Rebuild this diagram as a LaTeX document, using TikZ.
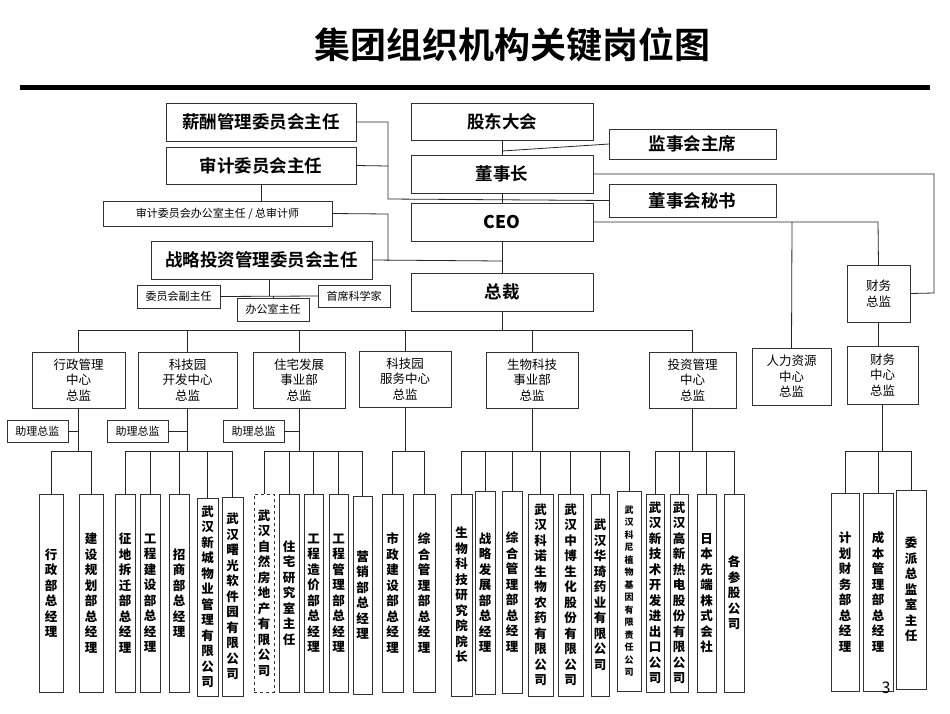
\documentclass[tikz,border=0pt]{standalone}
\usepackage{fontspec}
\setmainfont{Noto Sans CJK SC}
\newfontfamily\cjkb{Noto Sans CJK SC Bold}
\begin{document}
\begin{tikzpicture}[x=1pt,y=-1pt,
  box/.style={draw=black!80,line width=0.9pt,inner sep=0pt,outer sep=0pt,align=center},
  big/.style={font=\fontsize{17.5}{20}\selectfont\cjkb},
  mid/.style={font=\fontsize{12.5}{15.5}\selectfont},
  sm/.style={font=\fontsize{11}{13}\selectfont},
  lf/.style={font=\fontsize{12.5}{15.5}\selectfont\bfseries},
  ln/.style={draw=black!85,line width=0.8pt}]
\newcommand\bx[7][]{\node[box,#1,minimum width={#4-#2},minimum height={#5-#3}] (#6) at ({(#2+#4)/2},{(#3+#5)/2}) {#7};}
\useasboundingbox (0,0) rectangle (950,713);
\fill[white] (0,0) rectangle (950,713);
% title
\node[font=\fontsize{36}{40}\selectfont\cjkb] (title) at (512,45) {集团组织机构关键岗位图};
\fill (20,85) rectangle (930,90);
% top boxes
\bx[big]{166}{103}{356}{141}{xc}{薪酬管理委员会主任}
\bx[big]{166}{147}{356}{184}{sj}{审计委员会主任}
\bx[sm]{103}{201}{332}{226}{sjb}{审计委员会办公室主任 / 总审计师}
\bx[big]{151}{241}{372}{279}{zl}{战略投资管理委员会主任}
\bx[sm]{137}{285}{220}{308}{fzr}{委员会副主任}
\bx[sm]{318}{285}{390}{307}{sx}{首席科学家}
\bx[sm]{237}{298}{309}{321}{bgs}{办公室主任}
\bx[big]{411}{103}{593}{140}{gd}{股东大会}
\bx[big]{411}{155}{593}{193}{dsz}{董事长}
\bx[big]{411}{203}{593}{241}{ceo}{\bfseries CEO}
\bx[big]{411}{273}{593}{311}{zc}{总裁}
\bx[big]{609}{129}{776}{159}{jsh}{监事会主席}
\bx[big]{609}{184}{776}{217}{ms}{董事会秘书}
\bx[mid]{847}{265}{910}{322}{cwz}{财务\\总监}
% divisions
\bx[mid]{32}{352}{125}{408}{d1}{行政管理\\中心\\总监}
\bx[mid]{138}{352}{237}{408}{d2}{科技园\\开发中心\\总监}
\bx[mid]{253}{352}{345}{408}{d3}{住宅发展\\事业部\\总监}
\bx[mid]{359}{351}{451}{407}{d4}{科技园\\服务中心\\总监}
\bx[mid]{486}{352}{578}{408}{d5}{生物科技\\事业部\\总监}
\bx[mid]{649}{352}{736}{408}{d6}{投资管理\\中心\\总监}
\bx[mid]{752}{348}{831}{405}{d7}{人力资源\\中心\\总监}
\bx[mid]{847}{346}{918}{404}{d8}{财务\\中心\\总监}
\bx[sm]{7}{420}{68}{442}{a1}{助理总监}
\bx[sm]{107}{420}{168}{442}{a2}{助理总监}
\bx[sm]{223}{420}{284}{442}{a3}{助理总监}
% leaves
\bx[lf]{39}{494}{63}{692}{l1}{行\\政\\部\\总\\经\\理}
\bx[lf]{79}{494}{103}{692}{l2}{建\\设\\规\\划\\部\\总\\经\\理}
\bx[lf]{115}{494}{135}{692}{l3}{征\\地\\拆\\迁\\部\\总\\经\\理}
\bx[lf]{140}{494}{160}{692}{l4}{工\\程\\建\\设\\部\\总\\经\\理}
\bx[lf]{169}{494}{189}{692}{l5}{招\\商\\部\\总\\经\\理}
\bx[lf]{197}{498}{218}{696}{l6}{武\\汉\\新\\城\\物\\业\\管\\理\\有\\限\\公\\司}
\bx[lf]{222}{497}{243}{696}{l7}{武\\汉\\曙\\光\\软\\件\\园\\有\\限\\公\\司}
\bx[lf,dashed]{254}{494}{274}{692}{l8}{武\\汉\\自\\然\\房\\地\\产\\有\\限\\公\\司}
\bx[lf]{279}{494}{299}{692}{l9}{住\\宅\\研\\究\\室\\主\\任}
\bx[lf]{304}{494}{323}{692}{l10}{工\\程\\造\\价\\部\\总\\经\\理}
\bx[lf]{329}{494}{348}{692}{l11}{工\\程\\管\\理\\部\\总\\经\\理}
\bx[lf]{353}{496}{372}{694}{l12}{营\\销\\部\\总\\经\\理}
\bx[lf]{382}{494}{403}{692}{l13}{市\\政\\建\\设\\部\\总\\经\\理}
\bx[lf]{413}{494}{435}{692}{l14}{综\\合\\管\\理\\部\\总\\经\\理}
\bx[lf]{451}{494}{472}{696}{l15}{生\\物\\科\\技\\研\\究\\院\\院\\长}
\bx[lf]{475}{491}{495}{694}{l16}{战\\略\\发\\展\\部\\总\\经\\理}
\bx[lf]{502}{491}{522}{693}{l17}{综\\合\\管\\理\\部\\总\\经\\理}
\bx[lf]{528}{494}{553}{696}{l18}{武\\汉\\科\\诺\\生\\物\\农\\药\\有\\限\\公\\司}
\bx[lf]{558}{494}{583}{696}{l19}{武\\汉\\中\\博\\生\\化\\股\\份\\有\\限\\公\\司}
\bx[lf]{591}{494}{609}{696}{l20}{武\\汉\\华\\琦\\药\\业\\有\\限\\公\\司}
\bx[font=\fontsize{9}{12.5}\selectfont\bfseries]{617}{491}{641}{691}{l21}{武\\汉\\科\\尼\\植\\物\\基\\因\\有\\限\\责\\任\\公\\司}
\bx[lf]{646}{494}{664}{692}{l22}{武\\汉\\新\\技\\术\\开\\发\\进\\出\\口\\公\\司}
\bx[lf]{670}{494}{688}{692}{l23}{武\\汉\\高\\新\\热\\电\\股\\份\\有\\限\\公\\司}
\bx[lf]{697}{494}{716}{692}{l24}{日\\本\\先\\端\\株\\式\\会\\社}
\bx[lf]{724}{494}{744}{692}{l25}{各\\参\\股\\公\\司}
\bx[lf]{831}{493}{859}{691}{l26}{计\\划\\财\\务\\部\\总\\经\\理}
\bx[lf]{863}{493}{893}{691}{l27}{成\\本\\管\\理\\部\\总\\经\\理}
\bx[lf]{896}{490}{926}{689}{l28}{委\\派\\总\\监\\室\\主\\任}
\node[font=\fontsize{16}{18}\selectfont] (pg) at (886,688) {3};
% top connectors
\draw[ln] (xc.east) -- (388,122) -- (388,199) -- (ms.west);
\draw[ln] (sj.east) -- (388,166);
\draw[ln] (sj.south) -- (sjb.north -| sj.south);
\draw[ln] (sjb.east) -- (388,214) -- (388,261);
\draw[ln] (zl.east) -- (502,261);
\draw[ln] (gd.south) -- (dsz.north);
\draw[ln] (dsz.south) -- (ceo.north);
\draw[ln] (ceo.south) -- (zc.north);
\draw[ln] (502,151) -- (jsh.west);
\draw[ln] (dsz.east) -- (934,174) -- (934,293) -- (cwz.east);
\draw[ln] (ceo.east) -- (878,222) -- (cwz.north);
\draw[ln] (792,222) -- (d7.north);
\draw[ln] (cwz.south) -- (d8.north -| cwz.south);
\draw[ln] (269,279) -- (269,296);
\draw[ln] (fzr.east) -- (sx.west);
\draw[ln] (273,296) -- (bgs.north);
% president bus
\draw[ln] (zc.south) -- (502,330);
\draw[ln] (78,330) -- (692,330);
\foreach \d in {d1,d2,d3,d4,d5,d6}{\draw[ln] (\d.north |- 0,330) -- (\d.north);}
% assistants
\draw[ln] (a1.east) -- (a1.east -| d1.south);
\draw[ln] (a2.east) -- (a2.east -| d2.south);
\draw[ln] (a3.east) -- (a3.east -| d3.south);
% sub buses
\newcommand\grp[3]{\draw[ln] (#1.south) -- (#1.south |- 0,451);
  \draw[ln] (#2.north |- 0,451) -- (#3.north |- 0,451);}
\grp{d1}{l1}{l2}\grp{d2}{l3}{l7}\grp{d3}{l8}{l12}\grp{d4}{l13}{l14}
\grp{d5}{l15}{l21}\grp{d6}{l22}{l25}\grp{d8}{l26}{l28}
\foreach \l in {l1,l2,l3,l4,l5,l6,l7,l8,l9,l10,l11,l12,l13,l14,l15,l16,l17,l18,l19,l20,l21,l22,l23,l24,l25,l26,l27,l28}{\draw[ln] (\l.north |- 0,451) -- (\l.north);}
\end{tikzpicture}
\end{document}
